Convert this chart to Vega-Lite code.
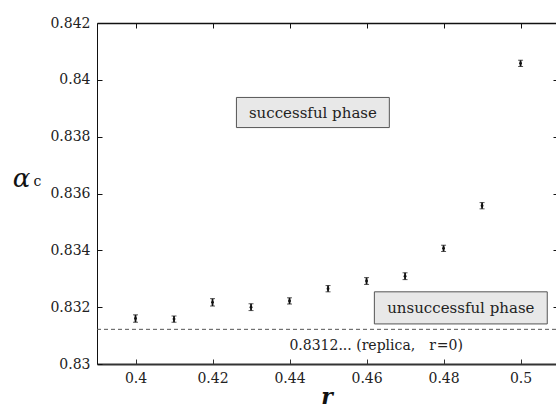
{
  "$schema": "https://vega.github.io/schema/vega-lite/v6.json",
  "autosize": "none",
  "padding": {"left": 97, "top": 23, "right": 0, "bottom": 47},
  "width": 459,
  "height": 341,
  "background": "white",
  "config": {
    "view": {"stroke": null},
    "font": "DejaVu Serif",
    "axis": {"grid": false, "labelFont": "DejaVu Serif", "titleFont": "DejaVu Serif", "labelColor": "#222", "domainColor": "#111", "tickColor": "#111"}
  },
  "datasets": {
    "pts": [
      {"r": 0.40, "ac": 0.83160, "err": 0.00013},
      {"r": 0.41, "ac": 0.83158, "err": 0.00011},
      {"r": 0.42, "ac": 0.83217, "err": 0.00013},
      {"r": 0.43, "ac": 0.83200, "err": 0.00012},
      {"r": 0.44, "ac": 0.83222, "err": 0.00011},
      {"r": 0.45, "ac": 0.83265, "err": 0.00011},
      {"r": 0.46, "ac": 0.83292, "err": 0.00012},
      {"r": 0.47, "ac": 0.83309, "err": 0.00012},
      {"r": 0.48, "ac": 0.83407, "err": 0.00011},
      {"r": 0.49, "ac": 0.83557, "err": 0.00011},
      {"r": 0.50, "ac": 0.84058, "err": 0.00011}
    ],
    "boxes": [
      {"x1": 0.42621, "x2": 0.46592, "y1": 0.83832, "y2": 0.83938, "xc": 0.44607, "yc": 0.83885, "label": "successful phase"},
      {"x1": 0.46203, "x2": 0.50693, "y1": 0.83141, "y2": 0.83254, "xc": 0.48448, "yc": 0.83197, "label": "unsuccessful phase"}
    ],
    "note": [
      {"x": 0.43997, "y": 0.830645, "t": "0.8312... (replica, ", "style": "normal"},
      {"x": 0.47630, "y": 0.830645, "t": "r", "style": "italic"},
      {"x": 0.47825, "y": 0.830645, "t": "=0)", "style": "normal"}
    ],
    "ref": [{"y": 0.83122}],
    "sub": [{"x": 0.37353, "y": 0.836252, "t": "c"}]
  },
  "layer": [
    {
      "data": {"name": "ref"},
      "mark": {"type": "rule", "strokeDash": [4, 3], "color": "#555", "strokeWidth": 1},
      "encoding": {
        "y": {"field": "y", "type": "quantitative", "scale": {"domain": [0.83, 0.842], "nice": false, "zero": false}, "axis": null}
      }
    },
    {
      "data": {"name": "boxes"},
      "mark": {"type": "rect", "fill": "#e8e8e8", "stroke": "#555", "strokeWidth": 1},
      "encoding": {
        "x": {"field": "x1", "type": "quantitative", "axis": null},
        "x2": {"field": "x2"},
        "y": {"field": "y1", "type": "quantitative", "axis": null},
        "y2": {"field": "y2"}
      }
    },
    {
      "data": {"name": "boxes"},
      "mark": {"type": "text", "font": "DejaVu Serif", "fontSize": 15, "color": "#222", "align": "center", "baseline": "middle"},
      "encoding": {
        "x": {"field": "xc", "type": "quantitative", "axis": null},
        "y": {"field": "yc", "type": "quantitative", "axis": null},
        "text": {"field": "label"}
      }
    },
    {
      "data": {"name": "note"},
      "mark": {"type": "text", "font": "DejaVu Serif", "fontSize": 14, "color": "#222", "align": "left", "baseline": "middle"},
      "encoding": {
        "x": {"field": "x", "type": "quantitative", "axis": null},
        "y": {"field": "y", "type": "quantitative", "axis": null},
        "text": {"field": "t"},
        "fontStyle": {"field": "style", "type": "nominal", "scale": null}
      }
    },
    {
      "data": {"name": "sub"},
      "mark": {"type": "text", "font": "DejaVu Serif", "fontSize": 14, "color": "#111", "align": "left", "baseline": "alphabetic"},
      "encoding": {
        "x": {"field": "x", "type": "quantitative", "axis": null},
        "y": {"field": "y", "type": "quantitative", "axis": null},
        "text": {"field": "t"}
      }
    },
    {
      "data": {"name": "pts"},
      "mark": {"type": "errorbar", "ticks": {"size": 5, "color": "#111", "strokeWidth": 1.5}, "rule": {"color": "#111", "strokeWidth": 1.8}},
      "encoding": {
        "x": {"field": "r", "type": "quantitative", "scale": {"domain": [0.39, 0.5092], "nice": false, "zero": false},
          "axis": {"orient": "bottom", "values": [0.4, 0.42, 0.44, 0.46, 0.48, 0.5], "format": "~g", "labelFontSize": 14, "labelPadding": 12, "tickSize": -5, "domainWidth": 2, "domainColor": "#333", "tickColor": "#333",
            "title": "r", "titleFontSize": 22, "titleFontStyle": "italic", "titleFontWeight": "bold", "titleColor": "#111", "titleY": 39, "titleBaseline": "alphabetic"}},
        "y": {"field": "ac", "type": "quantitative", "scale": {"domain": [0.83, 0.842], "nice": false, "zero": false},
          "axis": {"orient": "left", "values": [0.83, 0.832, 0.834, 0.836, 0.838, 0.84, 0.842], "format": "~g", "labelFontSize": 14, "labelPadding": 12, "tickSize": -5,
            "title": "α", "titleAngle": 0, "titleFontSize": 26, "titleFontStyle": "italic", "titleFontWeight": "normal", "titleColor": "#111", "titleX": -76, "titleY": 163, "titleAlign": "center", "titleBaseline": "alphabetic"}},
        "yError": {"field": "err"}
      }
    },
    {
      "data": {"name": "pts"},
      "mark": {"type": "point", "filled": true, "size": 8, "color": "#111", "opacity": 1},
      "encoding": {
        "x": {"field": "r", "type": "quantitative", "axis": {"orient": "top", "values": [0.4, 0.42, 0.44, 0.46, 0.48, 0.5], "labels": false, "tickSize": -5, "domainWidth": 1.5, "title": null}},
        "y": {"field": "ac", "type": "quantitative", "axis": {"orient": "right", "values": [0.832, 0.834, 0.836, 0.838, 0.84], "labels": false, "tickSize": -3, "domain": false, "title": null}}
      }
    }
  ],
  "resolve": {"axis": {"x": "independent", "y": "independent"}}
}
